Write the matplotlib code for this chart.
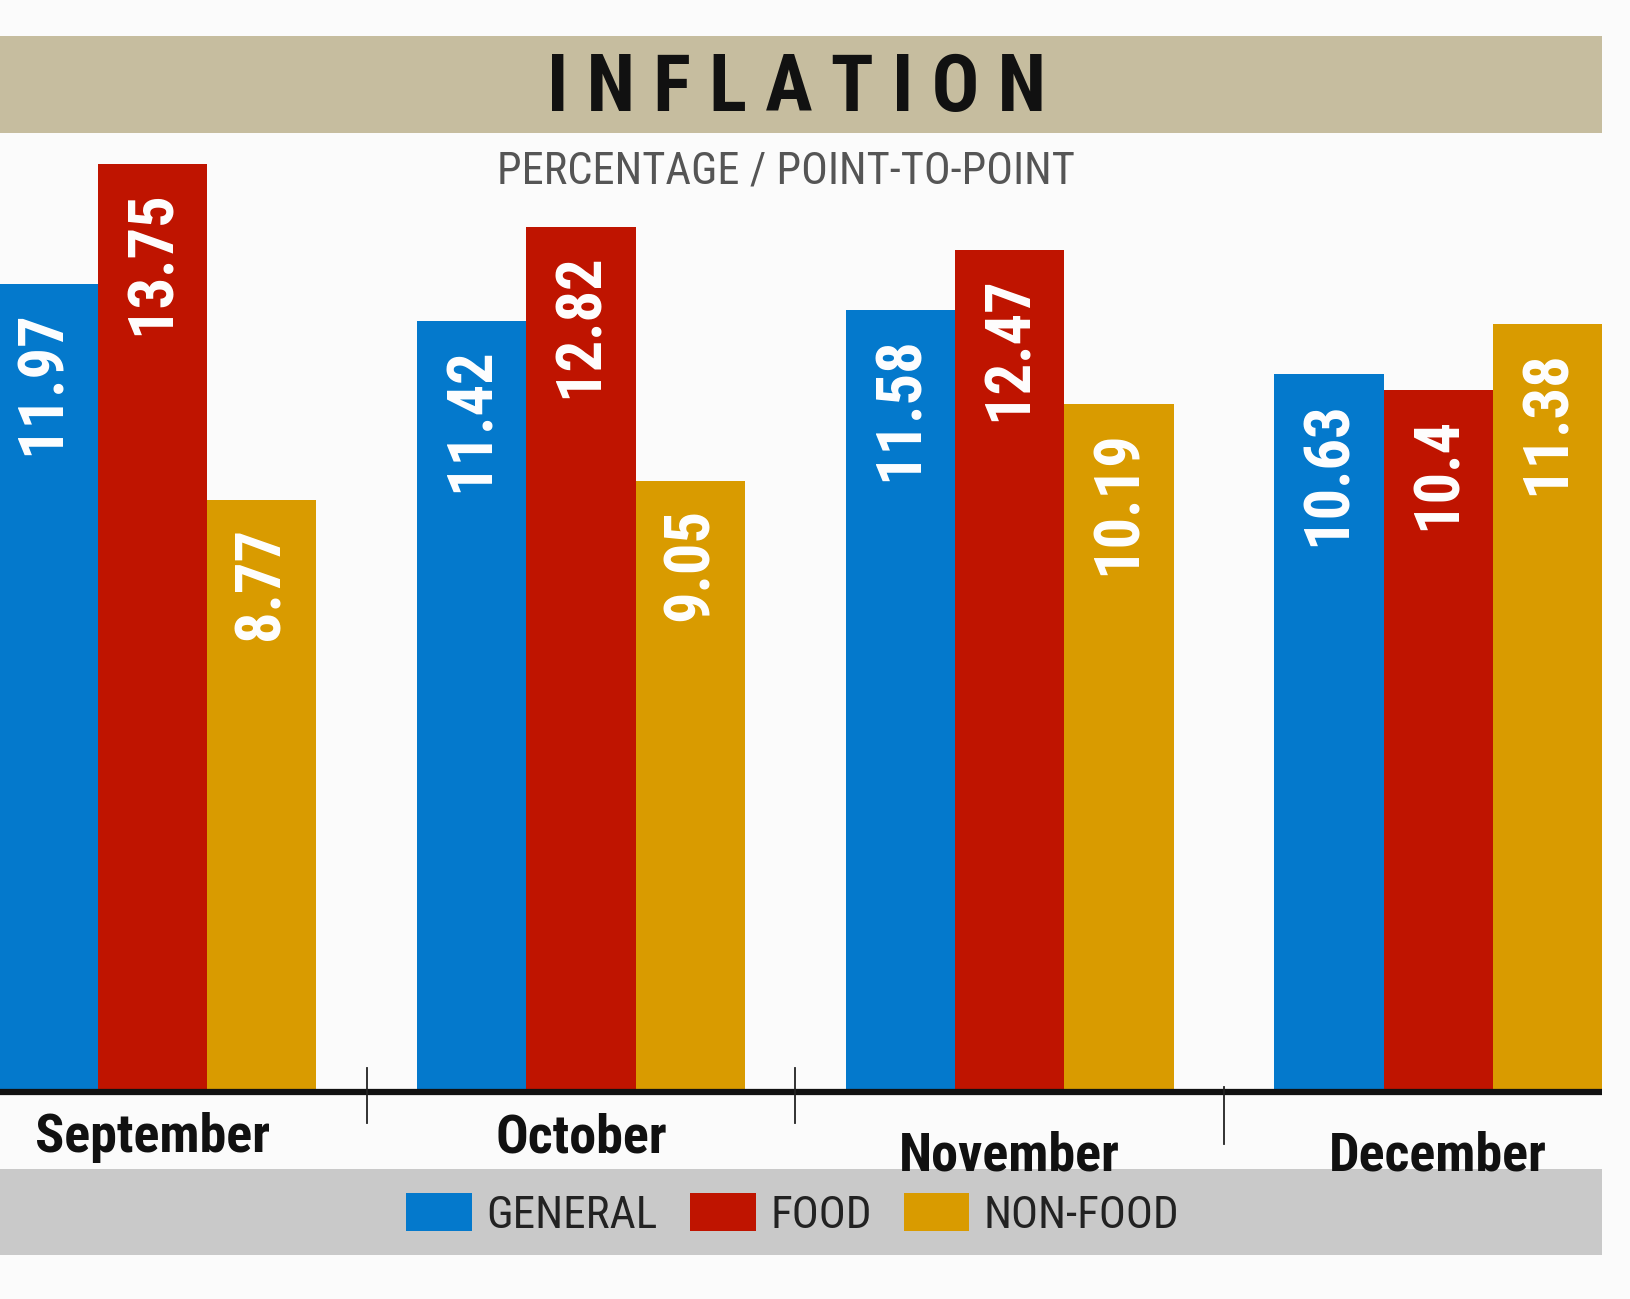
import matplotlib
matplotlib.use("Agg")
import matplotlib.pyplot as plt
from matplotlib.patches import Rectangle
import numpy as np

months = ["September", "October", "November", "December"]
series = ["GENERAL", "FOOD", "NON-FOOD"]
general = [11.97, 11.42, 11.58, 10.63]
food = [13.75, 12.82, 12.47, 10.40]
non_food = [8.77, 9.05, 10.19, 11.38]
value_labels = [["11.97", "11.42", "11.58", "10.63"],
                ["13.75", "12.82", "12.47", "10.4"],
                ["8.77", "9.05", "10.19", "11.38"]]

colors = ["#0479cc", "#bf1400", "#d99b00"]
narrow = ["Roboto Condensed", "Roboto", "DejaVu Sans"]

W, H = 1631, 1299
fig = plt.figure(figsize=(W / 100, H / 100), dpi=100)
fig.patch.set_facecolor("#fbfbfb")

# bars axes: baseline at 1092 px from top, 67.5 px per percent
px_per_unit = 67.5
ytop = 16
base_px = 1092
ax = fig.add_axes([0, (H - base_px) / H, 1602 / W, ytop * px_per_unit / H])
ax.set_facecolor("none")
ax.set_zorder(2)
for s in ax.spines.values():
    s.set_visible(False)
ax.set_xticks([])
ax.set_yticks([])

x = np.arange(len(months))
w = 0.255
ax.set_xlim(-0.3556, 3.382)
ax.set_ylim(0, ytop)

for j, (vals, c) in enumerate(zip([general, food, non_food], colors)):
    bars = ax.bar(x + (j - 1) * w, vals, width=w, color=c, edgecolor="none", zorder=2)
    for b, lab in zip(bars, value_labels[j]):
        ax.annotate(lab, (b.get_x() + b.get_width() / 2, b.get_height()),
                    xytext=(0, -19), textcoords="offset points",
                    rotation=90, ha="center", va="top", color="white",
                    fontsize=45, fontweight="bold", family=narrow, zorder=3)

# baseline
ax.plot([-0.3556, 3.382], [0, 0], color="#111111", lw=4.5, clip_on=False,
        solid_capstyle="butt", zorder=4)

# dividers between months
for xd, y0, y1 in [(0.5, -0.46, 0.354), (1.5, -0.46, 0.354), (2.5, -0.77, 0.077)]:
    ax.plot([xd, xd], [y0, y1], color="#222222", lw=1.3, clip_on=False, zorder=4)

# month labels
label_y = [-0.68, -0.68, -0.95, -0.95]
for i, (m, ly) in enumerate(zip(months, label_y)):
    ax.text(i, ly, m, ha="center", va="center", fontsize=39, fontweight="bold",
            family=narrow, color="#111111", clip_on=False)

# title band
fig.patches.append(Rectangle((0, 1 - 133 / H), 1602 / W, 97 / H, transform=fig.transFigure,
                             facecolor="#c6bd9f", edgecolor="none", zorder=-1))
fig.text(797 / W, 1 - 90 / H, "I N F L A T I O N", ha="center", va="center",
         fontsize=57, fontweight="bold", family=narrow, color="#111111")
fig.text(786 / W, 1 - 171 / H, "PERCENTAGE / POINT-TO-POINT", ha="center", va="center",
         fontsize=32, family=narrow, color="#555555")

# legend band
fig.patches.append(Rectangle((0, 1 - 1255 / H), 1602 / W, 86 / H, transform=fig.transFigure,
                             facecolor="#c9c9c9", edgecolor="none", zorder=-1))
handles = [Rectangle((0, 0), 1, 1, facecolor=c, edgecolor="none") for c in colors]
leg = fig.legend(handles, series, loc="center", bbox_to_anchor=(793 / W, 1 - 1215 / H),
                 ncol=3, frameon=False, prop={"family": narrow, "size": 32.5},
                 handlelength=1.45, handleheight=0.92, handletextpad=0.32,
                 columnspacing=0.72, borderpad=0)
for t in leg.get_texts():
    t.set_color("#222222")

fig.savefig("out.png", dpi=100, facecolor=fig.get_facecolor())
